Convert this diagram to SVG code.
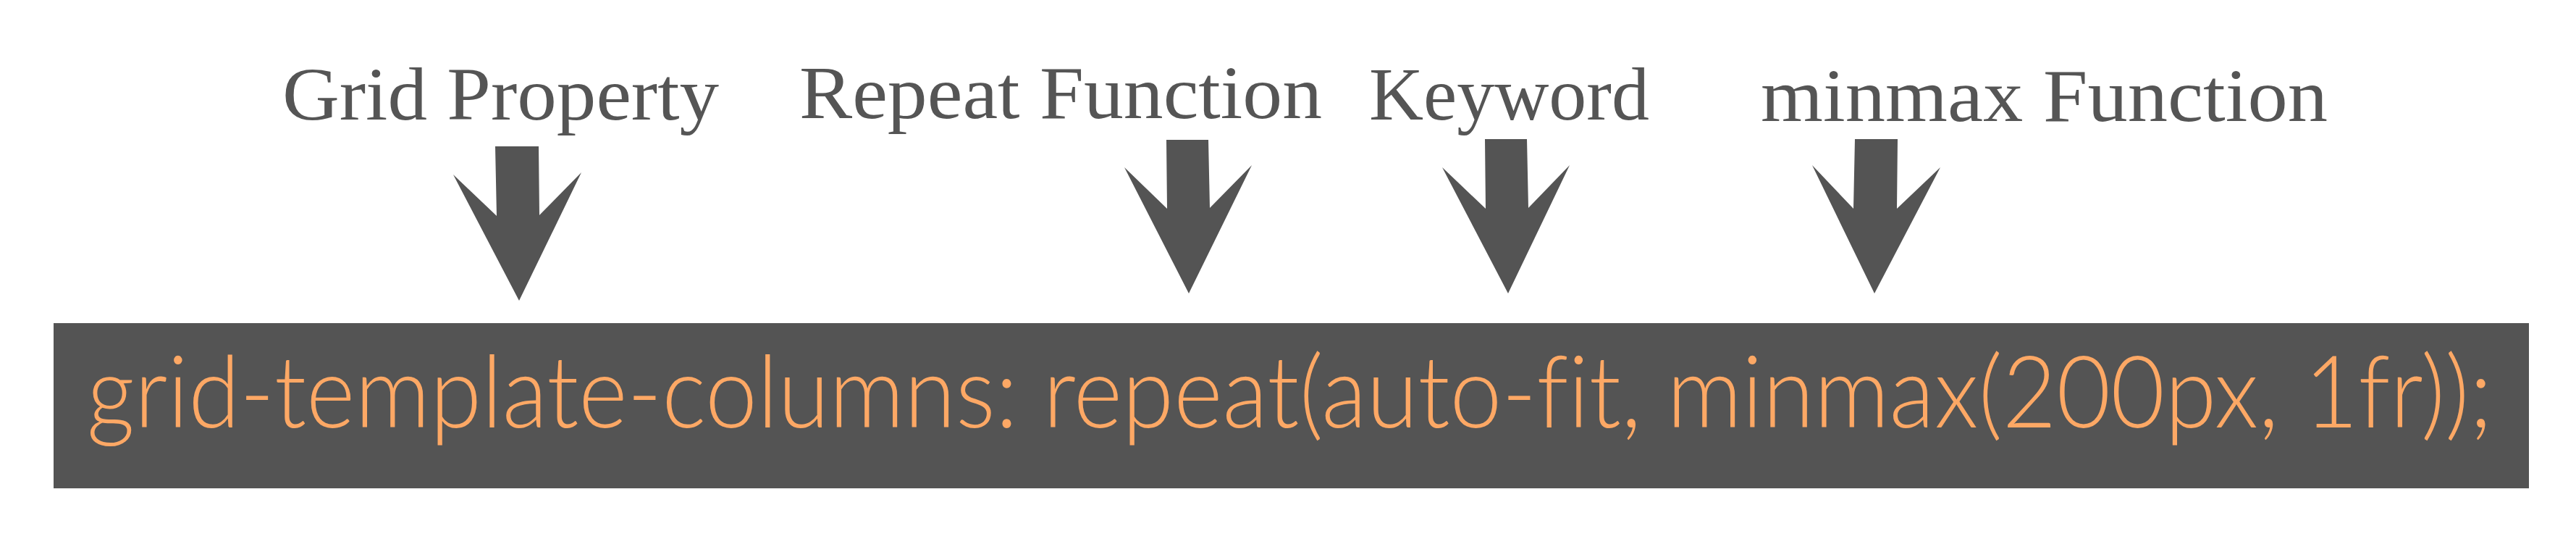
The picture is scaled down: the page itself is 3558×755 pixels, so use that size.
<svg xmlns="http://www.w3.org/2000/svg" width="3558" height="755" viewBox="0 0 3558 755">
<style>
.lbl{font-family:"Liberation Serif","Times New Roman",serif;font-size:104px;fill:#555555}
.code{font-family:Lato,"Open Sans",sans-serif;font-weight:300;font-size:138px;fill:#FDA865;font-variant-ligatures:none;font-feature-settings:"liga" 0}
.arrow{fill:#545454}
</style>
<rect width="3558" height="755" fill="#ffffff"/>
<g id="label-grid-property"><text class="lbl" x="390" y="165" textLength="603" lengthAdjust="spacingAndGlyphs">Grid Property</text></g>
<g id="label-repeat-function"><text class="lbl" x="1104" y="163" textLength="722" lengthAdjust="spacingAndGlyphs">Repeat Function</text></g>
<g id="label-keyword"><text class="lbl" x="1891" y="165" textLength="387" lengthAdjust="spacingAndGlyphs">Keyword</text></g>
<g id="label-minmax-function"><text class="lbl" x="2432" y="167" textLength="783" lengthAdjust="spacingAndGlyphs">minmax Function</text></g>
<g id="code-box">
<rect x="74" y="446" width="3419" height="228" fill="#545454"/>
<text class="code" transform="scale(0.8 1)" x="150" y="590" textLength="4153.75" lengthAdjust="spacingAndGlyphs">grid-template-columns: repeat(auto-fit, minmax(200px, 1fr));</text>
</g>
<g id="connectors">
<polygon class="arrow" points="684,202 744,202 745,297 803,238 717,415 626,241 686,298"/>
<polygon class="arrow" points="1611,193 1669,193 1671,287 1729,228 1642,405 1553,231 1612,288"/>
<polygon class="arrow" points="2051,192 2109,192 2111,287 2168,228 2083,405 1992,231 2052,288"/>
<polygon class="arrow" points="2562,192 2621,192 2620,288 2680,231 2589,405 2503,228 2560,288"/>
</g>
</svg>
